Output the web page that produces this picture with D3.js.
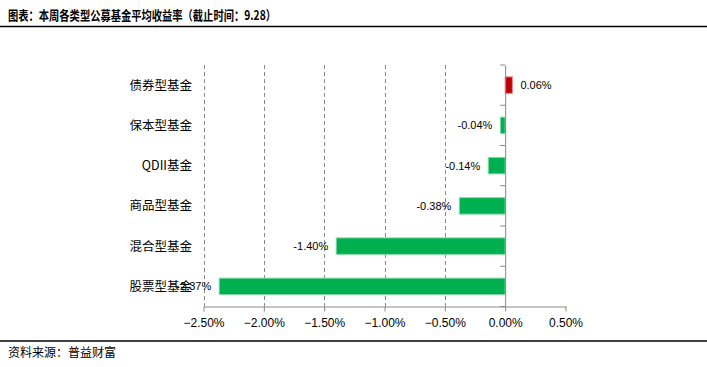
<!DOCTYPE html>
<html><head><meta charset="utf-8">
<script src="https://cdn.jsdelivr.net/npm/d3@7"></script>
<style>body{margin:0;background:#fff}svg{display:block}</style>
</head><body>
<script>
const categories = ["债券型基金","保本型基金","QDII基金","商品型基金","混合型基金","股票型基金"];
const values = [0.06,-0.04,-0.14,-0.38,-1.40,-2.37];
const labels = ["0.06%","-0.04%","-0.14%","-0.38%","-1.40%","-2.37%"];
const xTicks = [-2.5,-2.0,-1.5,-1.0,-0.5,0,0.5];
const title = "图表：本周各类型公募基金平均收益率（截止时间：9.28）";
const source = "资料来源：普益财富";

const W=707,H=367;
const svg=d3.select("body").append("svg").attr("width",W).attr("height",H);
const x=d3.scaleLinear().domain([-2.5,0.5]).range([203.5,565.5]);
const y=d3.scaleBand().domain(categories).range([65,306.5]).paddingInner(0.59).paddingOuter(0.295);
const yb=d3.scaleBand().domain(categories).range([65,306.5]);

// title
svg.append("text").attr("x",8).attr("y",20).text(title)
 .attr("font-family","Noto Sans CJK SC").attr("font-weight","bold").attr("font-size",13)
 .attr("textLength",268).attr("lengthAdjust","spacingAndGlyphs").attr("fill","#000");
svg.append("line").attr("x1",0).attr("x2",W).attr("y1",26.5).attr("y2",26.5).attr("stroke","#000").attr("stroke-width",1.5);
svg.append("line").attr("x1",0).attr("x2",W).attr("y1",341).attr("y2",341).attr("stroke","#000").attr("stroke-width",1.5);
svg.append("text").attr("x",8).attr("y",357).text(source)
 .attr("font-family","Noto Sans CJK SC").attr("font-size",12).attr("fill","#000");

// grid
svg.append("g").selectAll("line").data(xTicks.filter(d=>d<0)).join("line")
 .attr("x1",d=>Math.round(x(d))+0.5).attr("x2",d=>Math.round(x(d))+0.5)
 .attr("y1",65).attr("y2",306.5).attr("stroke","#888").attr("stroke-dasharray","4,3");

// bars
svg.append("g").selectAll("rect").data(values).join("rect")
 .attr("x",d=>x(Math.min(0,d))).attr("width",d=>Math.abs(x(d)-x(0)))
 .attr("y",(d,i)=>y(categories[i])).attr("height",y.bandwidth())
 .attr("fill",d=>d>=0?"#C00000":"#00B050")
 .attr("stroke",d=>d>=0?"#E88A8A":"#86D9A6").attr("stroke-width",1);

// x axis
const xa=svg.append("g").attr("transform","translate(0,306.5)")
 .call(d3.axisBottom(x).tickValues(xTicks).tickFormat(d=>d3.format(".2f")(d)+"%").tickSize(5).tickSizeOuter(0));
xa.selectAll("path,line").attr("stroke","#888");
xa.selectAll("text").attr("font-family","Liberation Sans, Arial").attr("font-size",12).attr("fill","#000").attr("dy","1.05em");

// y axis at zero
const ya=svg.append("g").attr("transform",`translate(${x(0)},0)`)
 .call(d3.axisLeft(yb).tickValues([]).tickSizeOuter(0));
ya.select("path").attr("stroke","#888");
svg.append("g").selectAll("line").data(d3.range(7)).join("line")
 .attr("x1",x(0)-5).attr("x2",x(0)).attr("y1",i=>65+i*yb.step()).attr("y2",i=>65+i*yb.step())
 .attr("stroke","#888");

// category labels
svg.append("g").selectAll("text").data(categories).join("text")
 .attr("x",192).attr("y",d=>yb(d)+yb.bandwidth()/2).attr("dy","0.36em").attr("text-anchor","end")
 .attr("font-family","Noto Sans CJK SC").attr("font-size",12.5).attr("fill","#000").text(d=>d);

// value labels
svg.append("g").selectAll("text").data(values).join("text")
 .attr("x",d=>d>=0?x(d)+8:x(d)-8).attr("text-anchor",d=>d>=0?"start":"end")
 .attr("y",(d,i)=>y(categories[i])+y.bandwidth()/2).attr("dy","0.36em")
 .attr("font-family","Liberation Sans, Arial").attr("font-size",11).attr("fill","#000")
 .text((d,i)=>labels[i]);
</script>
</body></html>
